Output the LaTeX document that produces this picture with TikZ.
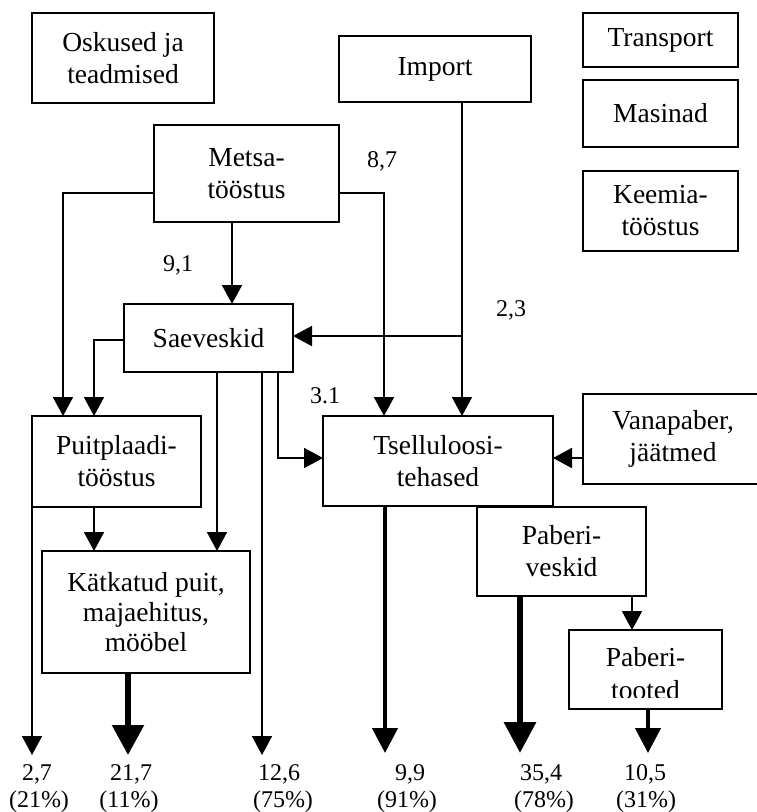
\documentclass[tikz,border=0pt]{standalone}
\usepackage{fontspec}
\setmainfont{Liberation Serif}
\usetikzlibrary{arrows.meta}
\newcommand{\bxfont}{\fontsize{27.5}{32}\selectfont}
\newcommand{\lblfont}{\fontsize{24}{27}\selectfont}
\begin{document}
\begin{tikzpicture}[x=1pt,y=-1pt,
  box/.style={draw,line width=1.5pt,inner sep=0pt,outer sep=0pt,align=center,
    anchor=north west,font=\bxfont},
  arr/.style={line width=1.8pt,-{Triangle[width=20pt,length=19pt]}},
  arrmid/.style={line width=4.5pt,-{Triangle[width=25pt,length=25pt]}},
  arrbig/.style={line width=5.5pt,-{Triangle[width=31pt,length=30pt]}},
  arrhuge/.style={line width=6.5pt,-{Triangle[width=31pt,length=31pt]}},
  lbl/.style={anchor=base,inner sep=0pt,font=\lblfont}]
\useasboundingbox (0,0) rectangle (756,812);

% boxes
\node[box,minimum width=182pt,minimum height=90pt] (osk) at (32,13) {Oskused ja\\teadmised};
\node[box,minimum width=192pt,minimum height=66pt] (imp) at (339,36) {Import};
\node[box,minimum width=155pt,minimum height=54pt] (tra) at (583,13) {Transport};
\node[box,minimum width=155pt,minimum height=67pt] (mas) at (583,80) {Masinad};
\node[box,minimum width=155pt,minimum height=80pt] (kee) at (583,171) {Keemia-\\tööstus};
\node[box,minimum width=185pt,minimum height=97pt] (met) at (154,125) {Metsa-\\tööstus};
\node[box,minimum width=169pt,minimum height=68pt] (sae) at (124,304) {Saeveskid};
\node[box,minimum width=169pt,minimum height=91pt] (pui) at (32,416) {Puitplaadi-\\tööstus};
\node[box,minimum width=230pt,minimum height=90pt] (tse) at (323,416) {Tselluloosi-\\tehased};
\node[box,minimum width=180pt,minimum height=90pt] (van) at (583,394) {Vanapaber,\\jäätmed};
\node[box,minimum width=169pt,minimum height=89pt] (pve) at (477,507) {Paberi-\\veskid};
\node[box,minimum width=208pt,minimum height=122pt,font=\fontsize{27.5}{30}\selectfont]
  (kat) at (42,551) {Kätkatud puit,\\majaehitus,\\mööbel};
\node[box,minimum width=153pt,minimum height=79pt] (pto) at (569,630) {};
\begin{scope}
  \clip (569,630) rectangle (722,697);
  \node[lbl,font=\bxfont] (ptoa) at (645.5,666) {Paberi-};
  \node[lbl,font=\bxfont] (ptob) at (645.5,699) {tooted};
\end{scope}

% free ends of the output arrows
\coordinate (o1) at (32,755);
\coordinate (o2) at (128,755);
\coordinate (o3) at (262,755);
\coordinate (o4) at (385,753);
\coordinate (o5) at (520,753);
\coordinate (o6) at (648,753);
\coordinate (j) at (462,336);

% flows between the boxes
\draw[arr] (met.west |- 0,193) -| (pui.north -| 63,0);
\draw[arr] (met.east |- 0,193) -| (tse.north -| 384,0);
\draw[arr] (met.south -| 232,0) -- (sae.north -| 232,0);
\draw[arr] (imp.south -| j) -- (tse.north -| j);
\draw[arr] (j) -- (sae.east |- j);
\draw[arr] (sae.west |- 0,340) -| (pui.north -| 94,0);
\draw[arr] (sae.south -| 217,0) -- (kat.north -| 217,0);
\draw[arr] (sae.south -| o3) -- (o3);
\draw[arr] (sae.south -| 278,0) |- (tse.west |- 0,458);
\draw[arr] (van.west |- 0,458) -- (tse.east |- 0,458);
\draw[arr] (pui.south -| 94,0) -- (kat.north -| 94,0);
\draw[arr] (pui.south west) -- (o1);
\draw[arrbig] (kat.south -| o2) -- (o2);
\draw[arrmid] (tse.south -| o4) -- (o4);
\draw[arrhuge] (pve.south -| o5) -- (o5);
\draw[arr] (pve.south -| 632,0) -- (pto.north -| 632,0);
\draw[arrmid] (pto.south -| o6) -- (o6);

% flow values
\node[lbl] (v91) at (178,271) {9,1};
\node[lbl] (v87) at (382,167) {8,7};
\node[lbl] (v23) at (511,316) {2,3};
\node[lbl] (v31) at (325,403) {3.1};

% outputs
\node[lbl] (r1a) at (37,780) {2,7};
\node[lbl] (r1b) at (39,807) {(21\%)};
\node[lbl] (r2a) at (131,780) {21,7};
\node[lbl] (r2b) at (129,807) {(11\%)};
\node[lbl] (r3a) at (279,780) {12,6};
\node[lbl] (r3b) at (283,807) {(75\%)};
\node[lbl] (r4a) at (410,780) {9,9};
\node[lbl] (r4b) at (407,807) {(91\%)};
\node[lbl] (r5a) at (541,780) {35,4};
\node[lbl] (r5b) at (544,807) {(78\%)};
\node[lbl] (r6a) at (645,780) {10,5};
\node[lbl] (r6b) at (646,807) {(31\%)};
\end{tikzpicture}
\end{document}
